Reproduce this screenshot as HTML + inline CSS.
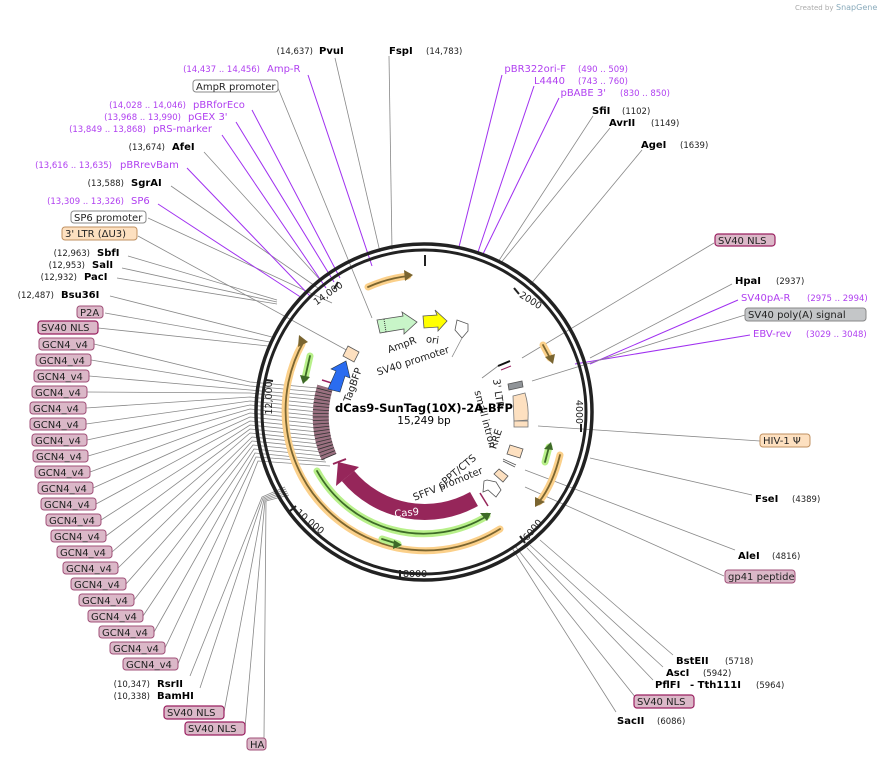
<!DOCTYPE html>
<html><head><meta charset="utf-8"><style>
html,body{margin:0;padding:0;background:#fff;}
svg{display:block;font-family:"DejaVu Sans","Liberation Sans",sans-serif;}
.n{font-size:8.5px;fill:#222}
.b{font-size:10px;font-weight:bold;fill:#000}
.p{font-size:10px;fill:#b040f0}
.pn{font-size:8.5px;fill:#b040f0}
.f{font-size:10px;fill:#222}
.l{stroke:#888;stroke-width:0.8;fill:none}
.lp{stroke:#a030f0;stroke-width:1;fill:none}
.bx{fill:#dbb8c8;stroke:#a05078;stroke-width:1}
.bx2{fill:#dbb8c8;stroke:#9a2060;stroke-width:1.2}
</style></head><body>
<svg width="893" height="761" viewBox="0 0 893 761" xmlns="http://www.w3.org/2000/svg">
<text x="795" y="10" style="font-size:7px;fill:#aaa">Created by</text>
<text x="836" y="10" style="font-size:8px;fill:#8ab">SnapGene</text>

<g class="l">
<line x1="335" y1="58" x2="380" y2="252"/>
<line x1="389" y1="56" x2="392" y2="250"/>
<line x1="278" y1="88" x2="372" y2="318"/>
<line x1="204" y1="152" x2="322" y2="282"/>
<line x1="171" y1="186" x2="318" y2="288"/>
<line x1="148" y1="218" x2="332" y2="303"/>
<line x1="138" y1="236" x2="350" y2="352"/>
<line x1="128" y1="256" x2="277" y2="300"/>
<line x1="122" y1="268" x2="277" y2="302"/>
<line x1="117" y1="278" x2="277" y2="304"/>
<line x1="110" y1="296" x2="272" y2="337"/>
<line x1="105" y1="313" x2="270" y2="342"/>
<line x1="98" y1="328" x2="268" y2="346"/>
</g>
<g class="lp">
<line x1="308" y1="75" x2="372" y2="266"/>
<line x1="252" y1="110" x2="340" y2="278"/>
<line x1="236" y1="122" x2="334" y2="282"/>
<line x1="222" y1="135" x2="326" y2="288"/>
<line x1="187" y1="168" x2="310" y2="296"/>
<line x1="158" y1="204" x2="302" y2="298"/>
<line x1="502" y1="75" x2="459" y2="247"/>
<line x1="534" y1="86" x2="478" y2="252"/>
<line x1="559" y1="98" x2="483" y2="254"/>
<line x1="738" y1="300" x2="590" y2="364"/>
<line x1="750" y1="335" x2="575" y2="364"/>
</g>
<g class="l">
<polyline points="94,344 250,382 318,388"/>
<polyline points="91,360 250,386 318,392"/>
<polyline points="89,376 250,390 318,396"/>
<polyline points="87,392 250,393 318,400"/>
<polyline points="86,408 250,397 318,404"/>
<polyline points="86,424 250,401 318,408"/>
<polyline points="87,440 250,405 318,412"/>
<polyline points="88,456 250,409 318,416"/>
<polyline points="90,472 250,413 318,420"/>
<polyline points="93,488 250,417 318,424"/>
<polyline points="96,504 250,421 318,428"/>
<polyline points="101,520 250,425 318,432"/>
<polyline points="106,536 250,429 318,436"/>
<polyline points="112,552 250,433 318,440"/>
<polyline points="118,568 252,437 320,444"/>
<polyline points="126,584 252,441 322,448"/>
<polyline points="134,600 253,445 323,452"/>
<polyline points="143,616 254,449 324,456"/>
<polyline points="154,632 255,453 325,460"/>
<polyline points="165,648 256,457 326,462"/>
<polyline points="178,664 258,461 330,466"/>
<polyline points="190,676 262,497 285,487"/>
<polyline points="200,688 263,498 286,489"/>
<polyline points="224,712 264,499 287,491"/>
<polyline points="245,728 265,500 288,493"/>
<polyline points="264,738 266,501 289,495"/>
</g>
<g class="l">
<line x1="593" y1="116" x2="498" y2="262"/>
<line x1="610" y1="128" x2="500" y2="264"/>
<line x1="642" y1="150" x2="530" y2="285"/>
<line x1="714" y1="243" x2="522" y2="358"/>
<line x1="732" y1="284" x2="590" y2="358"/>
<line x1="745" y1="315" x2="532" y2="381"/>
<line x1="760" y1="441" x2="538" y2="426"/>
<line x1="752" y1="495" x2="590" y2="458"/>
<line x1="735" y1="550" x2="525" y2="470"/>
<line x1="724" y1="576" x2="525" y2="487"/>
<line x1="673" y1="655" x2="540" y2="540"/>
<line x1="663" y1="667" x2="530" y2="545"/>
<line x1="653" y1="680" x2="527" y2="548"/>
<line x1="636" y1="698" x2="515" y2="546"/>
<line x1="616" y1="712" x2="512" y2="548"/>
</g>

<circle cx="424" cy="412" r="168" fill="none" stroke="#222" stroke-width="3.5"/>
<circle cx="424" cy="412" r="162" fill="none" stroke="#222" stroke-width="3"/>
<g stroke="#222" stroke-width="2">
<line x1="425" y1="255" x2="425" y2="266"/>
<line x1="514" y1="288" x2="519" y2="294"/>
<line x1="581" y1="424" x2="581" y2="432"/>
<line x1="520" y1="536" x2="525" y2="543"/>
<line x1="400" y1="570" x2="400" y2="578"/>
<line x1="290" y1="511" x2="296" y2="506"/>
<line x1="266" y1="380" x2="273" y2="381"/>
<line x1="334" y1="289" x2="338" y2="282"/>
</g>
<g class="f" style="font-size:9.5px">
<text transform="translate(330,296) rotate(-35)" text-anchor="middle">14,000</text>
<text transform="translate(529,303) rotate(32)" text-anchor="middle">2000</text>
<text transform="translate(576,412) rotate(90)" text-anchor="middle">4000</text>
<text transform="translate(535,532) rotate(-50)" text-anchor="middle">6000</text>
<text x="403" y="577">8000</text>
<text transform="translate(308,524) rotate(40)" text-anchor="middle">10,000</text>
<text transform="translate(272,398) rotate(-90)" text-anchor="middle">12,000</text>
</g>

<g fill="none" stroke-linecap="round">
<path d="M368,287 A137,137 0 0 1 408,276" stroke="#fbd08a" stroke-width="7"/>
<path d="M368,287 A137,137 0 0 1 408,276" stroke="#7a6530" stroke-width="1.8"/>
<path d="M500,529 A140,140 0 0 1 302,344" stroke="#fbd08a" stroke-width="7"/>
<path d="M500,529 A140,140 0 0 1 304,341" stroke="#7a6530" stroke-width="1.8"/>
<path d="M543,345 L550,358" stroke="#fbd08a" stroke-width="7"/>
<path d="M543,345 L550,358" stroke="#7a6530" stroke-width="1.8"/>
<path d="M560,455 Q553,484 539,502" stroke="#fbd08a" stroke-width="7"/>
<path d="M560,455 Q553,484 539,502" stroke="#7a6530" stroke-width="1.8"/>
<path d="M317,471 A122,122 0 0 0 487,516" stroke="#b8f08a" stroke-width="7"/>
<path d="M317,471 A122,122 0 0 0 487,516" stroke="#3e6a28" stroke-width="1.8"/>
<path d="M310,356 L305,378" stroke="#b8f08a" stroke-width="7"/>
<path d="M310,356 L305,378" stroke="#3e6a28" stroke-width="1.8"/>
<path d="M382,539 L398,544" stroke="#b8f08a" stroke-width="7"/>
<path d="M382,539 L398,544" stroke="#3e6a28" stroke-width="1.8"/>
<path d="M545,462 L549,447" stroke="#b8f08a" stroke-width="7"/>
<path d="M545,462 L549,447" stroke="#3e6a28" stroke-width="1.8"/>
</g>
<g fill="#7a6530">
<polygon points="413,275 404,270 405,281"/>
<polygon points="299,335 298,347 308,342"/>
<polygon points="553,364 545,357 555,354"/>
<polygon points="535,507 535,497 545,502"/>
</g>
<g fill="#3e6a28">
<polygon points="491,513 480,513 487,521"/>
<polygon points="303,384 300,375 310,377"/>
<polygon points="402,545 394,540 393,549"/>
<polygon points="551,442 544,449 553,450"/>
</g>

<path d="M474,499 A100,100 0 0 1 348,476" fill="none" stroke="#96265a" stroke-width="16"/>
<polygon points="359,467 336,486 338,462" fill="#96265a"/>
<text transform="translate(407,516) rotate(-6)" text-anchor="middle" style="font-size:10px;fill:#fff">Cas9</text>
<line x1="480" y1="493" x2="488" y2="506" stroke="#96265a" stroke-width="1.5"/>
<line x1="333" y1="464" x2="346" y2="459" stroke="#96265a" stroke-width="2"/>

<path d="M329,457 A103,103 0 0 1 325,387" fill="none" stroke="#9a7080" stroke-width="16"/>
<path d="M329,457 A103,103 0 0 1 325,387" fill="none" stroke="#333" stroke-width="16" stroke-dasharray="0.8 2.6"/>
<line x1="322" y1="380" x2="338" y2="385" stroke="#9a2060" stroke-width="1.5"/>

<polygon points="328,389 336,371 331,369 346,361 350,378 345,376 340,392" fill="#2a6cf0" stroke="#234" stroke-width="0.6"/>
<polygon points="348,346 359,352 354,362 343,356" fill="#fde0c0" stroke="#555" stroke-width="0.8"/>

<polygon points="377,320 403,316 402,312 417,322 404,334 404,329 380,333" fill="#c8f5c8" stroke="#555" stroke-width="0.8"/>
<line x1="384" y1="319" x2="386" y2="332" stroke="#333" stroke-dasharray="1 1"/>
<polygon points="423,316 437,315 435,310 447,321 438,331 438,327 424,328" fill="#ffff00" stroke="#555" stroke-width="0.8"/>
<polygon points="457,320 468,324 468,331 462,338 455,330" fill="#fff" stroke="#555" stroke-width="0.8"/>
<line x1="462" y1="338" x2="452" y2="357" class="l"/>

<line x1="498" y1="366" x2="510" y2="361" stroke="#111" stroke-width="2"/>
<line x1="501" y1="370" x2="511" y2="366" stroke="#9a2060" stroke-width="1"/>
<line x1="482" y1="378" x2="498" y2="366" class="l"/>
<polygon points="508,384 522,381 523,387 509,390" fill="#909498" stroke="#555" stroke-width="0.8"/>
<path d="M513,396 L525,393 Q529,406 528,420 L514,421 Z" fill="#fde0c0" stroke="#777" stroke-width="0.8"/>
<rect x="514" y="421" width="14" height="6" fill="#fde0c0" stroke="#777" stroke-width="0.8"/>
<polygon points="510,445 523,449 520,458 507,454" fill="#fde0c0" stroke="#555" stroke-width="0.8"/>
<line x1="503" y1="459" x2="516" y2="465" stroke="#555" stroke-width="0.8"/>
<line x1="503" y1="461" x2="515" y2="467" stroke="#555" stroke-width="0.8"/>
<polygon points="499,469 508,476 503,482 494,474" fill="#fde0c0" stroke="#555" stroke-width="0.8"/>
<polygon points="487,480 496,482 501,490 496,497 488,490 483,492 484,481" fill="#fff" stroke="#555" stroke-width="0.8"/>

<g class="f">
<text transform="translate(356,386) rotate(-70)" text-anchor="middle">TagBFP</text>
<text transform="translate(403,348) rotate(-20)" text-anchor="middle">AmpR</text>
<text transform="translate(432,343) rotate(8)" text-anchor="middle">ori</text>
<text transform="translate(414,364) rotate(-18)" text-anchor="middle">SV40 promoter</text>
<text transform="translate(495,394) rotate(82)" text-anchor="middle">3' LTR</text>
<text transform="translate(482,420) rotate(75)" text-anchor="middle">small intron</text>
<text transform="translate(499,440) rotate(-72)" text-anchor="middle">RRE</text>
<text transform="translate(459,474) rotate(-40)" text-anchor="middle">cPPT/CTS</text>
<text transform="translate(449,487) rotate(-22)" text-anchor="middle">SFFV promoter</text>
</g>
<text x="424" y="412" text-anchor="middle" style="font-size:11.5px;font-weight:bold">dCas9-SunTag(10X)-2A-BFP</text>
<text x="424" y="424" text-anchor="middle" style="font-size:10.5px">15,249 bp</text>

<text x="313" y="54" class="n" text-anchor="end">(14,637)</text>
<text x="319" y="54" class="b">PvuI</text>
<text x="389" y="54" class="b">FspI</text>
<text x="426" y="54" class="n">(14,783)</text>
<text x="260" y="72" class="pn" text-anchor="end">(14,437 .. 14,456)</text>
<text x="267" y="72" class="p">Amp-R</text>
<rect x="193" y="80" width="85" height="12" rx="3" fill="#fff" stroke="#888"/>
<text x="196" y="90" class="f">AmpR promoter</text>
<text x="186" y="108" class="pn" text-anchor="end">(14,028 .. 14,046)</text>
<text x="193" y="108" class="p">pBRforEco</text>
<text x="181" y="120" class="pn" text-anchor="end">(13,968 .. 13,990)</text>
<text x="188" y="120" class="p">pGEX 3'</text>
<text x="146" y="132" class="pn" text-anchor="end">(13,849 .. 13,868)</text>
<text x="153" y="132" class="p">pRS-marker</text>
<text x="165" y="150" class="n" text-anchor="end">(13,674)</text>
<text x="172" y="150" class="b">AfeI</text>
<text x="112" y="168" class="pn" text-anchor="end">(13,616 .. 13,635)</text>
<text x="120" y="168" class="p">pBRrevBam</text>
<text x="124" y="186" class="n" text-anchor="end">(13,588)</text>
<text x="131" y="186" class="b">SgrAI</text>
<text x="124" y="204" class="pn" text-anchor="end">(13,309 .. 13,326)</text>
<text x="131" y="204" class="p">SP6</text>
<rect x="71" y="211" width="75" height="12" rx="3" fill="#fff" stroke="#888"/>
<text x="74" y="221" class="f">SP6 promoter</text>
<rect x="62" y="227" width="75" height="13" rx="3" fill="#fde0c0" stroke="#c09060"/>
<text x="65" y="237" class="f">3' LTR (ΔU3)</text>
<text x="90" y="256" class="n" text-anchor="end">(12,963)</text>
<text x="97" y="256" class="b">SbfI</text>
<text x="85" y="268" class="n" text-anchor="end">(12,953)</text>
<text x="92" y="268" class="b">SalI</text>
<text x="77" y="280" class="n" text-anchor="end">(12,932)</text>
<text x="84" y="280" class="b">PacI</text>
<text x="54" y="298" class="n" text-anchor="end">(12,487)</text>
<text x="61" y="298" class="b">Bsu36I</text>
<rect x="77" y="306" width="26" height="12" rx="3" class="bx"/>
<text x="80" y="316" class="f">P2A</text>
<rect x="38" y="321" width="60" height="13" rx="3" class="bx2"/>
<text x="41" y="331" class="f">SV40 NLS</text>

<g class="f">
<rect x="39" y="338" width="55" height="12" rx="3" class="bx"/><text x="42" y="348">GCN4_v4</text>
<rect x="36" y="354" width="55" height="12" rx="3" class="bx"/><text x="39" y="364">GCN4_v4</text>
<rect x="34" y="370" width="55" height="12" rx="3" class="bx"/><text x="37" y="380">GCN4_v4</text>
<rect x="32" y="386" width="55" height="12" rx="3" class="bx"/><text x="35" y="396">GCN4_v4</text>
<rect x="30" y="402" width="56" height="12" rx="3" class="bx"/><text x="33" y="412">GCN4_v4</text>
<rect x="30" y="418" width="56" height="12" rx="3" class="bx"/><text x="33" y="428">GCN4_v4</text>
<rect x="32" y="434" width="55" height="12" rx="3" class="bx"/><text x="35" y="444">GCN4_v4</text>
<rect x="33" y="450" width="55" height="12" rx="3" class="bx"/><text x="36" y="460">GCN4_v4</text>
<rect x="35" y="466" width="55" height="12" rx="3" class="bx"/><text x="38" y="476">GCN4_v4</text>
<rect x="38" y="482" width="55" height="12" rx="3" class="bx"/><text x="41" y="492">GCN4_v4</text>
<rect x="41" y="498" width="55" height="12" rx="3" class="bx"/><text x="44" y="508">GCN4_v4</text>
<rect x="46" y="514" width="55" height="12" rx="3" class="bx"/><text x="49" y="524">GCN4_v4</text>
<rect x="51" y="530" width="55" height="12" rx="3" class="bx"/><text x="54" y="540">GCN4_v4</text>
<rect x="57" y="546" width="55" height="12" rx="3" class="bx"/><text x="60" y="556">GCN4_v4</text>
<rect x="63" y="562" width="55" height="12" rx="3" class="bx"/><text x="66" y="572">GCN4_v4</text>
<rect x="71" y="578" width="55" height="12" rx="3" class="bx"/><text x="74" y="588">GCN4_v4</text>
<rect x="79" y="594" width="55" height="12" rx="3" class="bx"/><text x="82" y="604">GCN4_v4</text>
<rect x="88" y="610" width="55" height="12" rx="3" class="bx"/><text x="91" y="620">GCN4_v4</text>
<rect x="99" y="626" width="55" height="12" rx="3" class="bx"/><text x="102" y="636">GCN4_v4</text>
<rect x="110" y="642" width="55" height="12" rx="3" class="bx"/><text x="113" y="652">GCN4_v4</text>
<rect x="123" y="658" width="55" height="12" rx="3" class="bx"/><text x="126" y="668">GCN4_v4</text>
</g>
<text x="150" y="687" class="n" text-anchor="end">(10,347)</text>
<text x="157" y="687" class="b">RsrII</text>
<text x="150" y="699" class="n" text-anchor="end">(10,338)</text>
<text x="157" y="699" class="b">BamHI</text>
<rect x="164" y="706" width="60" height="13" rx="3" class="bx2"/><text x="167" y="716" class="f">SV40 NLS</text>
<rect x="185" y="722" width="60" height="13" rx="3" class="bx2"/><text x="188" y="732" class="f">SV40 NLS</text>
<rect x="247" y="738" width="19" height="12" rx="3" class="bx"/><text x="250" y="748" class="f">HA</text>

<text x="566" y="72" class="p" text-anchor="end">pBR322ori-F</text>
<text x="578" y="72" class="pn">(490 .. 509)</text>
<text x="565" y="84" class="p" text-anchor="end">L4440</text>
<text x="578" y="84" class="pn">(743 .. 760)</text>
<text x="606" y="96" class="p" text-anchor="end">pBABE 3'</text>
<text x="620" y="96" class="pn">(830 .. 850)</text>
<text x="592" y="114" class="b">SfiI</text>
<text x="622" y="114" class="n">(1102)</text>
<text x="609" y="126" class="b">AvrII</text>
<text x="651" y="126" class="n">(1149)</text>
<text x="641" y="148" class="b">AgeI</text>
<text x="680" y="148" class="n">(1639)</text>
<rect x="715" y="234" width="60" height="12" rx="3" class="bx2"/><text x="718" y="244" class="f">SV40 NLS</text>
<text x="735" y="284" class="b">HpaI</text>
<text x="776" y="284" class="n">(2937)</text>
<text x="741" y="301" class="p">SV40pA-R</text>
<text x="807" y="301" class="pn">(2975 .. 2994)</text>
<rect x="745" y="308" width="121" height="13" rx="3" fill="#c4c6c8" stroke="#888"/>
<text x="748" y="318" class="f">SV40 poly(A) signal</text>
<text x="753" y="337" class="p">EBV-rev</text>
<text x="806" y="337" class="pn">(3029 .. 3048)</text>
<rect x="760" y="434" width="50" height="13" rx="3" fill="#fde0c0" stroke="#c09060"/>
<text x="763" y="444" class="f">HIV-1 Ψ</text>
<text x="755" y="502" class="b">FseI</text>
<text x="792" y="502" class="n">(4389)</text>
<text x="738" y="559" class="b">AleI</text>
<text x="772" y="559" class="n">(4816)</text>
<rect x="725" y="570" width="70" height="13" rx="3" class="bx"/><text x="728" y="580" class="f">gp41 peptide</text>
<text x="676" y="664" class="b">BstEII</text>
<text x="725" y="664" class="n">(5718)</text>
<text x="666" y="676" class="b">AscI</text>
<text x="703" y="676" class="n">(5942)</text>
<text x="655" y="688" class="b">PflFI</text>
<text x="690" y="688" class="b">- Tth111I</text>
<text x="756" y="688" class="n">(5964)</text>
<rect x="634" y="695" width="60" height="13" rx="3" class="bx2"/><text x="637" y="705" class="f">SV40 NLS</text>
<text x="617" y="724" class="b">SacII</text>
<text x="657" y="724" class="n">(6086)</text>
</svg>
</body></html>
